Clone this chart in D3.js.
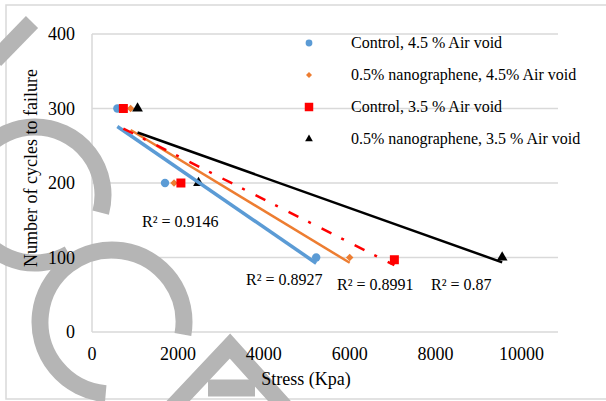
<!DOCTYPE html>
<html>
<head>
<meta charset="utf-8">
<script src="https://cdn.jsdelivr.net/npm/d3@7"></script>
<style>
  body { margin: 0; background: #fff; }
  svg { display: block; }
  text { font-family: "Liberation Serif", "Times New Roman", serif; fill: #000; }
</style>
</head>
<body>
<div id="chart"></div>
<script>
// data
const seriesNames = ["Control, 4.5 % Air void", "0.5% nanographene, 4.5% Air void",
                     "Control, 3.5 % Air void", "0.5% nanographene, 3.5 % Air void"];
const cycles = [300, 200, 100];
const cyclesRedSq = [300, 200, 97];
const stressControl45 = [590, 1700, 5220];
const stressNano45 = [900, 1910, 6000];
const stressControl35 = [730, 2070, 7040];
const stressNano35 = [1060, 2480, 9550];
const r2Labels = ["R² = 0.8927", "R² = 0.9146", "R² = 0.8991", "R² = 0.87"];
const xTicks = [0, 2000, 4000, 6000, 8000, 10000];
const yTicks = [0, 100, 200, 300, 400];

function drawChart() {
    const width = 606, height = 401;
    const plot = {left: 92, right: 558, top: 34, bottom: 332};

    const svg = d3.select("#chart").append("svg")
        .attr("width", width)
        .attr("height", height);

    const x = d3.scaleLinear().domain([0, 10850]).range([plot.left, plot.right]);
    const y = d3.scaleLinear().domain([0, 400]).range([plot.bottom, plot.top]);

    // chart frame
    svg.append("rect")
        .attr("x", 6).attr("y", 5)
        .attr("width", 620).attr("height", 394)
        .attr("fill", "none")
        .attr("stroke", "#d9d9d9")
        .attr("stroke-width", 1.5);

    // horizontal gridlines + left axis line
    svg.append("g").selectAll("line")
        .data(yTicks)
        .join("line")
        .attr("x1", plot.left).attr("x2", plot.right)
        .attr("y1", d => y(d)).attr("y2", d => y(d))
        .attr("stroke", "#d9d9d9")
        .attr("stroke-width", 1.5);
    svg.append("line")
        .attr("x1", plot.left).attr("x2", plot.left)
        .attr("y1", plot.top).attr("y2", plot.bottom)
        .attr("stroke", "#d9d9d9")
        .attr("stroke-width", 1.5);

    // watermark strokes behind the chart
    const wm = svg.append("g").attr("fill", "none").attr("stroke", "#b5b5b5").attr("stroke-width", 17);
    const arcPath = (r, a0, a1) => d3.arc()({innerRadius: r, outerRadius: r, startAngle: a0 * Math.PI / 180, endAngle: a1 * Math.PI / 180});
    wm.append("path").attr("transform", "translate(112,322)").attr("d", arcPath(72, 185, 460));
    wm.append("path").attr("transform", "translate(35,195)").attr("d", arcPath(68, 150, 465));
    wm.append("path").attr("d", d3.line()([[-5, 60], [32, 22]]));
    wm.append("path").attr("stroke-linejoin", "miter")
        .attr("d", d3.line()([[165, 415], [230, 346], [292, 415]]));
    wm.append("path").attr("d", d3.line()([[208, 388], [255, 388]]));

    // y tick labels
    svg.append("g").selectAll("text")
        .data(yTicks)
        .join("text")
        .attr("x", 75)
        .attr("y", d => y(d) + 6)
        .attr("text-anchor", "end")
        .style("font-size", "18px")
        .text(d => d);

    // x tick labels
    svg.append("g").selectAll("text")
        .data(xTicks)
        .join("text")
        .attr("x", d => x(d))
        .attr("y", 360)
        .attr("text-anchor", "middle")
        .style("font-size", "18px")
        .text(d => d);

    // axis titles
    svg.append("text")
        .attr("x", 306).attr("y", 385)
        .attr("text-anchor", "middle")
        .style("font-size", "18px")
        .text("Stress (Kpa)");
    svg.append("text")
        .attr("transform", "translate(37,168) rotate(-90)")
        .attr("text-anchor", "middle")
        .style("font-size", "18px")
        .text("Number of cycles to failure");

    // rot: extra rotation for the marker (diamond = square turned 45deg)
    const series = [
        {name: seriesNames[0], xs: stressControl45, ys: cycles, color: "#5b9bd5",
         symbol: d3.symbolCircle, rot: 0, size: 55, legendSize: 36, lw: 3.5, dash: null, r2: r2Labels[0], lx: 246, ly: 285},
        {name: seriesNames[1], xs: stressNano45, ys: cycles, color: "#ed7d31",
         symbol: d3.symbolSquare, rot: 45, size: 28, legendSize: 18, lw: 2.5, dash: null, r2: r2Labels[1], lx: 142, ly: 227},
        {name: seriesNames[2], xs: stressControl35, ys: cyclesRedSq, color: "#ff0000",
         symbol: d3.symbolSquare, rot: 0, size: 81, legendSize: 72, lw: 2.5, dash: "11,11,3,12", r2: r2Labels[2], lx: 337, ly: 290},
        {name: seriesNames[3], xs: stressNano35, ys: cycles, color: "#000000",
         symbol: d3.symbolTriangle, rot: 0, size: 50, legendSize: 26, lw: 2.5, dash: null, r2: r2Labels[3], lx: 431, ly: 290}
    ];

    // markers
    series.forEach(function (s) {
        svg.append("g").selectAll("path")
            .data(s.xs.map((v, i) => [v, s.ys[i]]))
            .join("path")
            .attr("transform", d => "translate(" + x(d[0]) + "," + y(d[1]) + ") rotate(" + s.rot + ")")
            .attr("d", d3.symbol().type(s.symbol).size(s.size))
            .attr("fill", s.color);
    });

    // linear trendlines (least squares) on top
    series.forEach(function (s) {
        const mx = d3.mean(s.xs), my = d3.mean(s.ys);
        const sxy = d3.sum(s.xs, (v, i) => (v - mx) * (s.ys[i] - my));
        const sxx = d3.sum(s.xs, v => (v - mx) * (v - mx));
        const slope = sxy / sxx, icpt = my - slope * mx;
        const ends = d3.extent(s.xs).map(v => [v, icpt + slope * v]);
        const ln = svg.append("path")
            .attr("d", d3.line().x(d => x(d[0])).y(d => y(d[1]))(ends))
            .attr("fill", "none")
            .attr("stroke", s.color)
            .attr("stroke-width", s.lw);
        if (s.dash) ln.attr("stroke-dasharray", s.dash);

        svg.append("text")
            .attr("x", s.lx).attr("y", s.ly)
            .style("font-size", "16px")
            .text(s.r2);
    });

    // legend
    const legend = svg.append("g").selectAll("g")
        .data(series)
        .join("g")
        .attr("transform", (d, i) => "translate(309," + (43 + i * 32) + ")");
    legend.append("path")
        .attr("d", d => d3.symbol().type(d.symbol).size(d.legendSize)())
        .attr("transform", d => "rotate(" + d.rot + ")")
        .attr("fill", d => d.color);
    legend.append("text")
        .attr("x", 42).attr("y", 5)
        .style("font-size", "16px")
        .text(d => d.name);
}
drawChart();
</script>
</body>
</html>
